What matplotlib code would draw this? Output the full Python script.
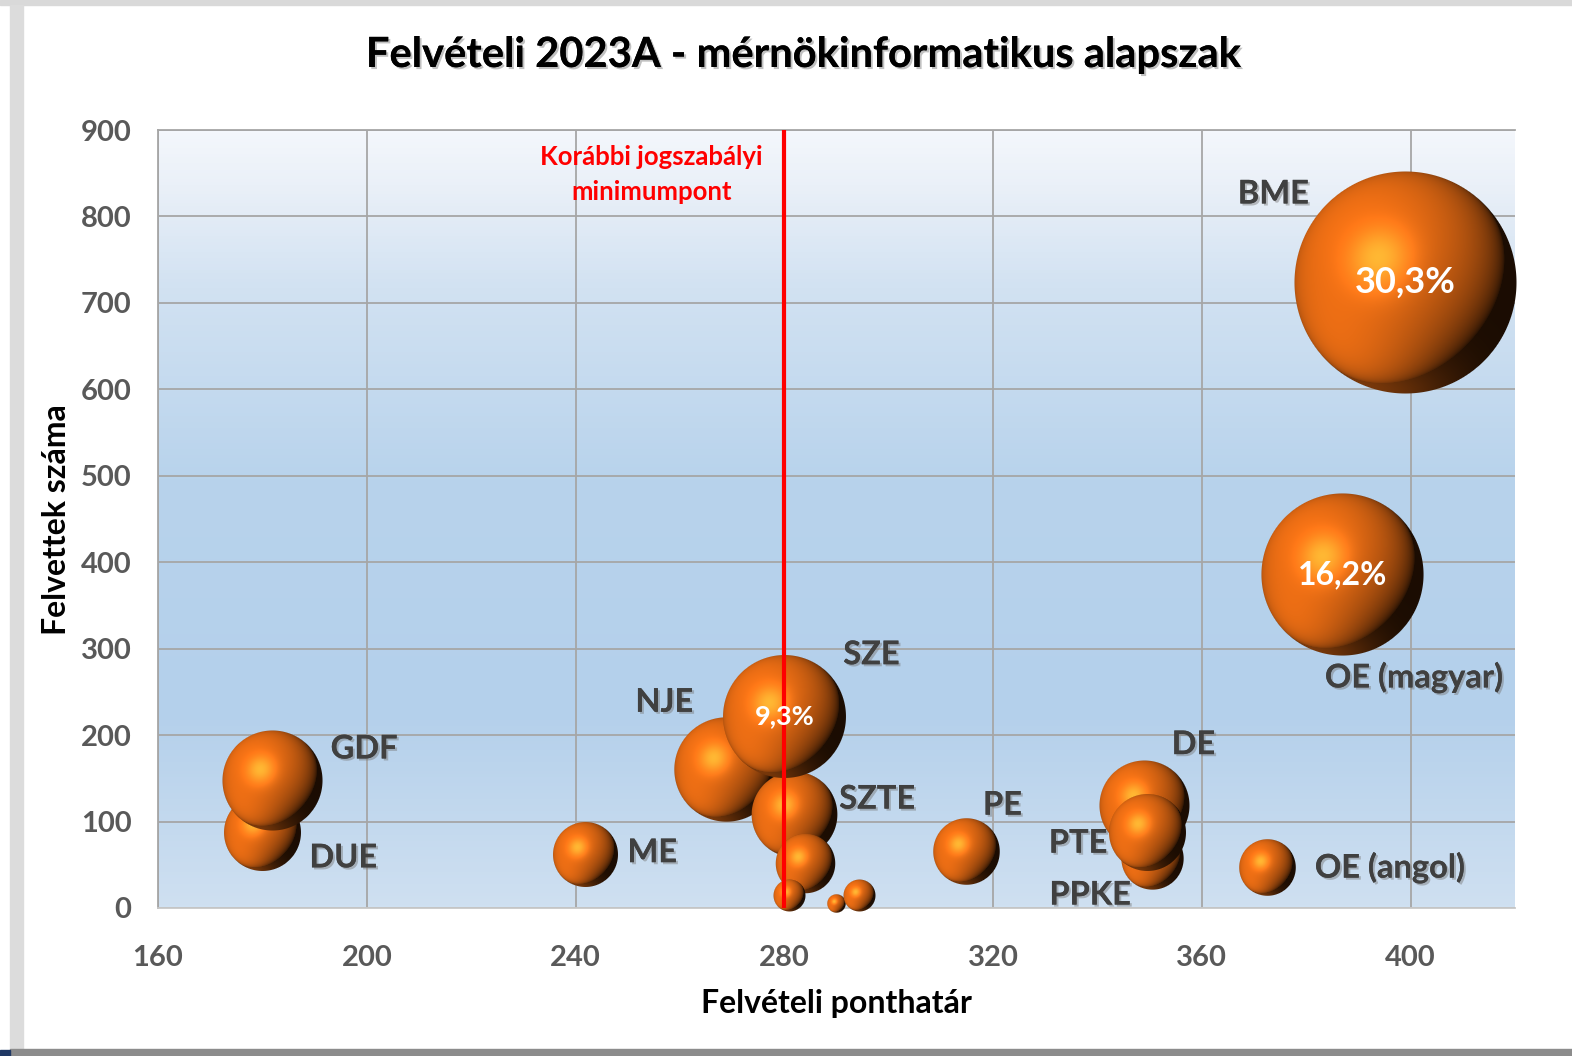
import numpy as np
import matplotlib.pyplot as plt
import matplotlib.patheffects as pe
from matplotlib.offsetbox import OffsetImage, AnnotationBbox
from matplotlib.patches import Rectangle
from matplotlib.colors import to_rgb

plt.rcParams['font.family'] = ['Lato', 'DejaVu Sans']

# adatok (buborék méret = felvettek száma)
nevek = ['BME', 'OE (magyar)', 'DUE', 'GDF', 'ME', 'NJE', 'SZTE', 'SZE', '', '', '', '',
         'PE', 'DE', 'PPKE', 'PTE', 'OE (angol)']
ponthatar = [399, 387, 180, 182, 242, 269, 282, 280, 284, 281, 290, 294.5,
             315, 349, 350.5, 349.5, 372.5]
felvettek = [724, 386, 87, 147, 62, 160, 108, 222, 52, 15, 5, 15,
             65, 119, 57, 87, 47]
szazalek = ['30,3%', '16,2%', '', '', '', '', '', '9,3%', '', '', '', '',
            '', '', '', '', '']
szazalek_meret = [26, 23, 0, 0, 0, 0, 0, 19.5, 0, 0, 0, 0, 0, 0, 0, 0, 0]

# címkék helye (adat koordinátában)
cimke_x = [373.7, 400.6, 195.5, 199.5, 254.7, 257, 297.8, 296.7, None, None, None, None,
           321.8, 358.4, 338.6, 336.3, 396]
cimke_y = [826, 267, 58, 184, 64, 238, 126, 293, None, None, None, None,
           119, 189, 15, 75, 47]

x_ticks = [160, 200, 240, 280, 320, 360, 400]
y_ticks = [0, 100, 200, 300, 400, 500, 600, 700, 800, 900]
minimum = 280


def gomb(R):
    # árnyékolt narancs gömb képe R pixel sugárral
    n = int(np.ceil(R)) + 1
    yy, xx = np.mgrid[n:-n - 1:-1, -n:n + 1].astype(float)
    d = np.sqrt(xx ** 2 + yy ** 2)
    alpha = np.clip(R - d + 0.5, 0, 1)
    nx, ny = xx / R, yy / R
    nz = np.sqrt(np.clip(1 - nx ** 2 - ny ** 2, 0, 1))
    L = np.array([-0.45, 0.42, 0.79])
    L = L / np.linalg.norm(L)
    dif = np.clip(nx * L[0] + ny * L[1] + nz * L[2], 0, 1)
    Hv = L + np.array([0, 0, 1.0])
    Hv = Hv / np.linalg.norm(Hv)
    spec = np.clip(nx * Hv[0] + ny * Hv[1] + nz * Hv[2], 0, 1) ** 25
    L2 = np.array([-0.4, -0.88, 0.2])
    L2 = L2 / np.linalg.norm(L2)
    rim = np.clip(nx * L2[0] + ny * L2[1] + nz * L2[2], 0, 1) ** 3
    base = np.array(to_rgb('#e86c14'))
    img = np.zeros(xx.shape + (4,))
    for c in range(3):
        v = base[c] * (0.12 + 0.95 * dif ** 0.6) + 0.4 * rim * base[c]
        v = v + spec * 0.4 * np.array([1.0, 0.7, 0.3])[c]
        img[..., c] = np.clip(v, 0, 1)
    img[..., 3] = alpha
    return img


fig = plt.figure(figsize=(15.72, 10.56), dpi=100)
W, H = 1572, 1056
ax = fig.add_axes([158 / W, 1 - 908 / H, (1515 - 158) / W, (908 - 130) / H])

# háttér színátmenet
stops = [0.0, 0.25, 0.55, 0.8, 0.93, 1.0]
cols = ['#cfe0f1', '#b4d0eb', '#b8d3ec', '#d2e2f2', '#eaf0f8', '#f4f7fc']
yv = np.linspace(0, 1, 256)
grad = np.zeros((256, 1, 3))
for c in range(3):
    grad[:, 0, c] = np.interp(yv, stops, [to_rgb(k)[c] for k in cols])
ax.imshow(grad, extent=[0, 1, 0, 1], transform=ax.transAxes, aspect='auto',
          origin='lower', zorder=0)

ax.set_xlim(160, 420)
ax.set_ylim(0, 900)
ax.set_xticks(x_ticks)
ax.set_yticks(y_ticks)
ax.grid(True, color='#a6a6a6', linewidth=1.3, zorder=1)
ax.set_axisbelow(True)
for s in ['top', 'left']:
    ax.spines[s].set_color('#a6a6a6')
    ax.spines[s].set_linewidth(1.3)
ax.spines['right'].set_visible(False)
ax.spines['bottom'].set_color('#c8c8c8')
ax.spines['bottom'].set_linewidth(1.3)
ax.tick_params(length=0, labelsize=21, labelcolor='#595959', pad=19)
ax.tick_params(axis='x', pad=27)
for lab in ax.get_xticklabels() + ax.get_yticklabels():
    lab.set_fontweight('bold')

# gömbök
for i in range(len(nevek)):
    R = 111 * np.sqrt(felvettek[i] / 724)
    kep = OffsetImage(gomb(R), zoom=0.72)
    ab = AnnotationBbox(kep, (ponthatar[i], felvettek[i]), xycoords='data',
                        frameon=False, pad=0, box_alignment=(0.5, 0.5))
    ab.set_zorder(3 + i * 0.01)
    ax.add_artist(ab)
    if szazalek[i]:
        ax.text(ponthatar[i], felvettek[i], szazalek[i], color='white',
                fontsize=szazalek_meret[i], fontweight='bold', ha='center',
                va='center', zorder=6)

# vörös függőleges vonal
ax.axvline(minimum, color='#ff0000', linewidth=3, zorder=5)
ax.text(254.5, 848, 'Korábbi jogszabályi\nminimumpont', color='#ff0000',
        fontsize=18.5, fontweight='bold', ha='center', va='center',
        linespacing=1.55, zorder=6)

arnyek = [pe.withSimplePatchShadow(offset=(1.5, -1.5), shadow_rgbFace='#777777', alpha=0.45),
          pe.Normal()]
for i in range(len(nevek)):
    if nevek[i]:
        ax.text(cimke_x[i], cimke_y[i], nevek[i], color='#404040', fontsize=23.5,
                fontweight='bold', ha='center', va='center', zorder=7,
                path_effects=arnyek)

fig.text(803 / W, 1 - 55 / H, 'Felvételi 2023A - mérnökinformatikus alapszak',
         fontsize=30, fontweight='bold', ha='center', va='center', color='black',
         path_effects=arnyek)
fig.text(836 / W, 1 - 1003 / H, 'Felvételi ponthatár', fontsize=23,
         fontweight='bold', ha='center', va='center')
fig.text(57 / W, 1 - 520 / H, 'Felvettek száma', fontsize=23, rotation=90,
         fontweight='bold', ha='center', va='center')

# képernyőkép keret
px = fig.transFigure
fig.patches.append(Rectangle((0, 1 - 5 / H), 1, 5 / H, transform=px,
                             color='#d9d9d9', zorder=-1))
fig.patches.append(Rectangle((10 / W, 7 / H), 13 / W, 1 - 12 / H, transform=px,
                             color='#dcdcdc', zorder=-1))
fig.patches.append(Rectangle((10 / W, 0), 1, 7 / H, transform=px,
                             color='#8c8c8c', zorder=-1))
fig.patches.append(Rectangle((0, 0), 10 / W, 6 / H, transform=px,
                             color='#1f3864', zorder=-1))

fig.savefig('out.png', dpi=100)
